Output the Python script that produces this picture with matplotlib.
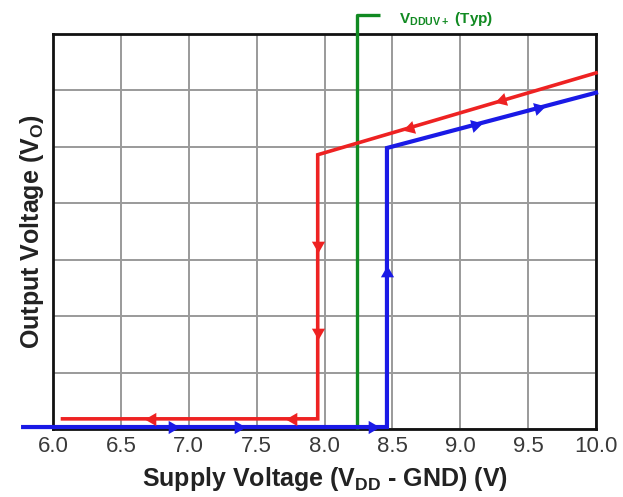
import numpy as np
import matplotlib
matplotlib.use("Agg")
import matplotlib.pyplot as plt

plt.rcParams['font.family'] = ['Liberation Sans', 'DejaVu Sans']

# Data
x_ticks = [6.0, 6.5, 7.0, 7.5, 8.0, 8.5, 9.0, 9.5, 10.0]
x_tick_labels = ["6.0", "6.5", "7.0", "7.5", "8.0", "8.5", "9.0", "9.5", "10.0"]
y_grid = [0, 1, 2, 3, 4, 5, 6, 7]

# Rising supply (blue) path
blue_x = [5.78, 8.46, 8.46, 10.0]
blue_y = [0.035, 0.035, 4.98, 5.96]
# Falling supply (red) path
red_x = [10.0, 7.95, 7.95, 6.07]
red_y = [6.31, 4.86, 0.18, 0.18]
# UVLO threshold marker (green)
uv_x = [8.24, 8.24, 8.41]
uv_y = [0.0, 7.34, 7.34]
uv_label = "V$_{\\mathregular{DDUV+}}$ (Typ)"

# Arrow positions
blue_arrow_x = [6.88, 7.36, 8.35, 8.46, 9.11, 9.57]
blue_arrow_y = [0.035, 0.035, 0.035, 2.77, None, None]
red_arrow_x = [9.31, 8.63, 7.95, 7.95, 7.77, 6.73]
red_arrow_y = [None, None, 3.26, 1.72, 0.18, 0.18]

RED = "#ee2222"
BLUE = "#1a1ae6"
GREEN = "#118a22"

fig = plt.figure(figsize=(6.23, 4.97), dpi=100)
ax = fig.add_axes([53/623, 1-429/497, (596-53)/623, (429-34)/497])
ax.set_xlim(6.0, 10.0)
ax.set_ylim(0, 7)

ax.set_xticks(x_ticks)
ax.set_xticklabels(x_tick_labels)
ax.set_yticks(y_grid)
ax.set_yticklabels([])
ax.tick_params(axis='both', length=0, labelsize=16, colors="#3a3a3a", pad=5)
ax.grid(True, color="#9a9a9a", linewidth=1.4)
ax.set_axisbelow(True)
for s in ax.spines.values():
    s.set_linewidth(2.0)
    s.set_color("#111111")

ax.plot(uv_x, uv_y, color=GREEN, lw=2.4, clip_on=False, zorder=3, solid_capstyle='butt')
ax.text(8.55, 7.26, uv_label, color=GREEN, fontsize=11, fontweight='bold',
        va='center', ha='left', transform=ax.transData, clip_on=False)

ax.plot(red_x, red_y, color=RED, lw=2.6, clip_on=False, zorder=4, solid_joinstyle='miter')
ax.plot(blue_x, blue_y, color=BLUE, lw=3.0, clip_on=False, zorder=5, solid_joinstyle='miter')

fig.canvas.draw()

def interp_on_path(px, py, xv, yv):
    for i in range(len(px) - 1):
        x0, x1 = px[i], px[i+1]
        y0, y1 = py[i], py[i+1]
        if yv is not None:
            if x0 == x1 and abs(xv - x0) < 1e-9 and min(y0, y1) <= yv <= max(y0, y1):
                return yv, i
            if y0 == y1 and abs(yv - y0) < 1e-9 and min(x0, x1) <= xv <= max(x0, x1):
                return yv, i
        else:
            if x0 != x1 and min(x0, x1) <= xv <= max(x0, x1):
                t = (xv - x0) / (x1 - x0)
                return y0 + t * (y1 - y0), i
    return yv, 0

def draw_arrows(px, py, axs, ays, color):
    for xv, yv in zip(axs, ays):
        yy, i = interp_on_path(px, py, xv, yv)
        p0 = ax.transData.transform((px[i], py[i]))
        p1 = ax.transData.transform((px[i+1], py[i+1]))
        ang = np.degrees(np.arctan2(p1[1]-p0[1], p1[0]-p0[0]))
        ax.plot([xv], [yy], marker=(3, 0, ang - 90), color=color, markersize=11,
                clip_on=False, zorder=6, markeredgewidth=0)

draw_arrows(blue_x, blue_y, blue_arrow_x, blue_arrow_y, BLUE)
draw_arrows(red_x, red_y, red_arrow_x, red_arrow_y, RED)

ax.set_xlabel("Supply Voltage (V$_{\\mathregular{DD}}$ - GND) (V)", fontsize=18,
              fontweight='bold', color="#222222", labelpad=6)
ax.set_ylabel("Output Voltage (V$_{\\mathregular{O}}$)", fontsize=18,
              fontweight='bold', color="#222222", labelpad=0)

fig.savefig("out.png", dpi=100)
